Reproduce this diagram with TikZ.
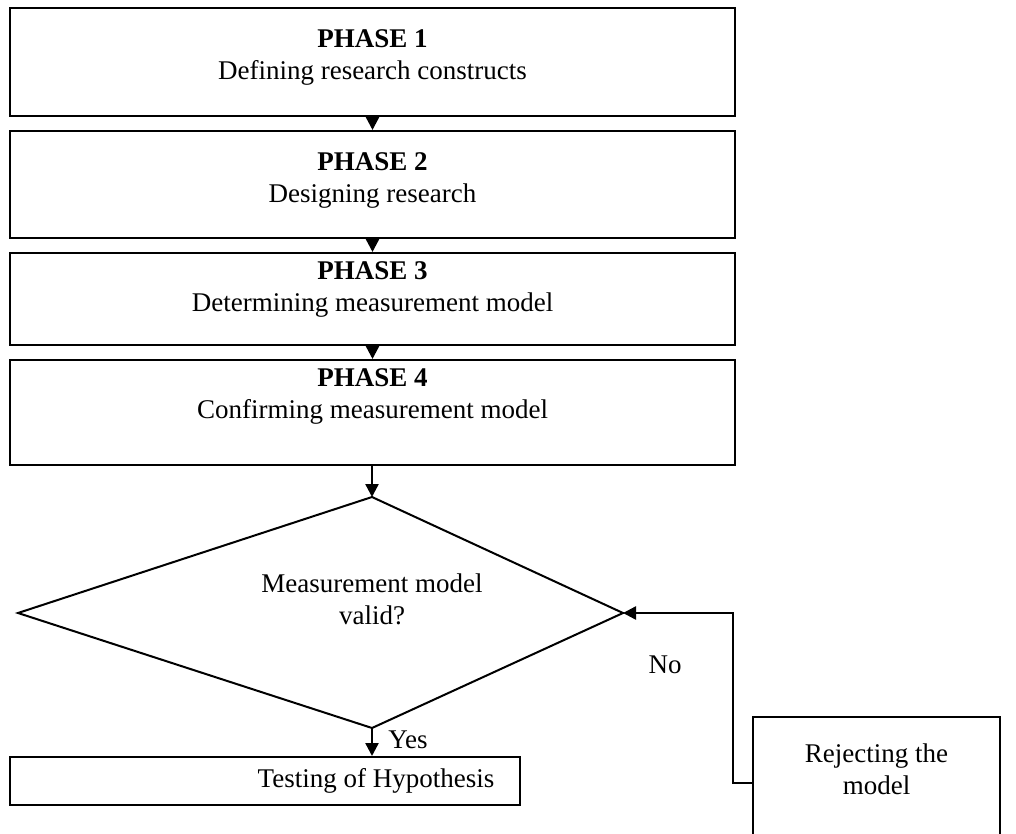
\documentclass[tikz,border=0pt]{standalone}
\usepackage{fontspec}
\setmainfont{Liberation Serif}
\usetikzlibrary{arrows.meta,positioning}

\begin{document}
\begin{tikzpicture}
    [   x = 0.5pt
    ,   y = -0.5pt
    ,   phase/.style=
        {   draw
        ,   line width = 1pt
        ,   minimum width = 362.5pt
        ,   align = center
        ,   inner sep = 0pt
        ,   text depth = 7pt
        ,   node font = \fontsize{13.5}{16}\selectfont
        }
    ,   tag/.style=
        {   inner sep = 0pt
        ,   align = center
        ,   node font = \fontsize{13.5}{16}\selectfont
        }
    ,   flow/.style=
        {   ->
        ,   line width = 1.2pt
        }
    ,   > = {Triangle[length=6.5pt,width=6.5pt]}
    ,   line width = 1pt
    ]
    \useasboundingbox (0,0) rectangle (1016,834);
    \clip (0,0) rectangle (1016,834);

    \node[phase, minimum height=54pt] (P1) at (372.5,62)
        {\textbf{PHASE 1}\\Defining research constructs};
    \node[phase, minimum height=53.5pt] (P2) at (372.5,184.5)
        {\textbf{PHASE 2}\\Designing research};
    \node[phase, minimum height=46pt, text depth=12pt] (P3) at (372.5,299)
        {\textbf{PHASE 3}\\Determining measurement model};
    \node[phase, minimum height=52.5pt, text depth=18.5pt] (P4) at (372.5,412.5)
        {\textbf{PHASE 4}\\Confirming measurement model};

    % decision diamond
    \coordinate (dtop) at (372,497);
    \coordinate (dright) at (623,613);
    \coordinate (dbot) at (372,728);
    \coordinate (dleft) at (18,613);
    \draw (dtop) -- (dright) -- (dbot) -- (dleft) -- cycle;
    \node[tag] (valid) at (372,599) {Measurement model\\valid?};

    \node[phase, minimum width=255pt, minimum height=24pt, text depth=3pt]
        (test) at (265,781) {\hspace*{111pt}Testing of Hypothesis};
    \node[phase, minimum width=123.5pt, minimum height=71.5pt, text depth=19pt]
        (reject) at (876.5,788.5) {Rejecting the\\model};
    \node[tag] (yes) at (408,740) {Yes};
    \node[tag] (no) at (665,665) {No};
    \coordinate (turn) at (733,783);

    \draw[flow] (P1) -- (P2);
    \draw[flow] (P2) -- (P3);
    \draw[flow] (P3) -- (P4);
    \draw[flow] (P4.south -| dtop) -- (dtop);
    \draw[flow] (dbot) -- (dbot |- test.north);
    \draw[flow] (reject.west |- turn) -- (turn) |- (dright);
\end{tikzpicture}
\end{document}
